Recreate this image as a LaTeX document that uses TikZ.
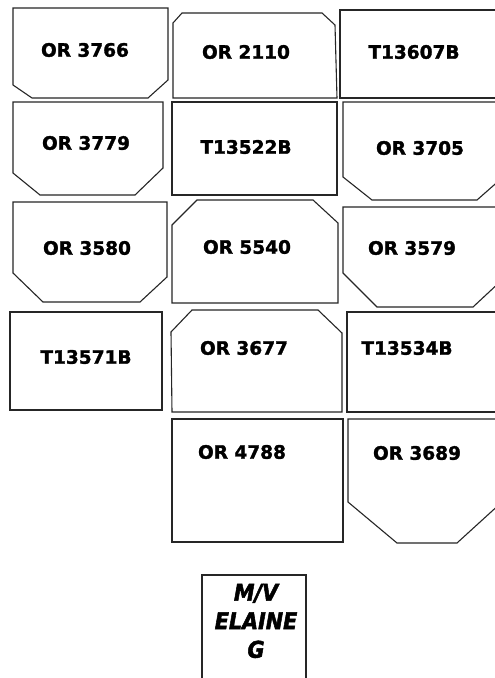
\documentclass[tikz,border=0pt]{standalone}
\usepackage{fontspec}
\setmainfont{DejaVu Sans}
\newfontfamily\heavyfont{DejaVu Sans Bold}[FakeBold=1.6]
\newfontfamily\heavyital{DejaVu Sans Condensed Bold Oblique}[FakeBold=2.2]
\begin{document}
\begin{tikzpicture}[x=1pt,y=-1pt,
  hold/.style={draw=black!85,line width=1.1pt,line join=miter},
  lbl/.style={font=\fontsize{18.5}{20}\heavyfont,inner sep=0pt,text=black},
  ship/.style={font=\fontsize{23}{28.5}\heavyital,inner sep=0pt,align=center,text=black}]
\useasboundingbox (0,0) rectangle (495,678);
\fill[white] (0,0) rectangle (495,678);
% column 1
\draw[hold] (13,8) -- (168,8) -- (168,80) -- (148,98) -- (32,98) -- (13,85) -- cycle;
\node[lbl] (a1) at (85,50) {OR 3766};
\draw[hold] (13,102) -- (163,102) -- (163,168) -- (135,195) -- (40,195) -- (13,173) -- cycle;
\node[lbl] (a2) at (86,143) {OR 3779};
\draw[hold] (13,202) -- (167,202) -- (167,277) -- (140,302) -- (43,302) -- (13,273) -- cycle;
\node[lbl] (a3) at (87,248) {OR 3580};
\draw[hold] (10,312) rectangle (162,410);
\node[lbl] (a4) at (86,357) {T13571B};
% column 2
\draw[hold] (173,98) -- (173,23) -- (182,13) -- (322,13) -- (335,25) -- (337,98) -- cycle;
\node[lbl] (b1) at (246,52) {OR 2110};
\draw[hold] (172,102) rectangle (337,195);
\node[lbl] (b2) at (246,147) {T13522B};
\draw[hold] (172,303) -- (172,225) -- (197,200) -- (313,200) -- (338,223) -- (338,303) -- cycle;
\node[lbl] (b3) at (247,247) {OR 5540};
\draw[hold] (172,412) -- (171,332) -- (192,310) -- (318,310) -- (342,333) -- (342,412) -- cycle;
\node[lbl] (b4) at (244,348) {OR 3677};
\draw[hold] (172,419) rectangle (343,542);
\node[lbl] (b5) at (242,452) {OR 4788};
% column 3
\draw[hold,line width=1.5pt] (340,98) -- (340,10) -- (502,10) -- (502,98) -- cycle;
\node[lbl] (c1) at (414,52) {T13607B};
\draw[hold] (343,102) -- (343,177) -- (372,200) -- (477,200) -- (502,178) -- (502,102) -- cycle;
\node[lbl] (c2) at (420,148) {OR 3705};
\draw[hold] (343,207) -- (343,273) -- (377,307) -- (473,307) -- (502,280) -- (502,207) -- cycle;
\node[lbl] (c3) at (412,248) {OR 3579};
\draw[hold] (347,312) rectangle (502,412);
\node[lbl] (c4) at (407,348) {T13534B};
\draw[hold] (348,419) -- (348,502) -- (397,543) -- (457,543) -- (502,502) -- (502,419) -- cycle;
\node[lbl] (c5) at (417,453) {OR 3689};
% vessel
\draw[hold,line width=1.4pt] (202,690) -- (202,575) -- (306,575) -- (306,690);
\node[ship] (v) at (256,621) {M/V\\ELAINE\\G};
\end{tikzpicture}
\end{document}
